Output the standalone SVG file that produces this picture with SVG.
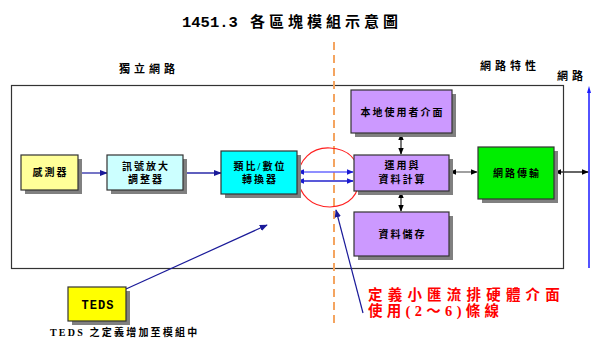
<svg xmlns="http://www.w3.org/2000/svg" width="591" height="338" viewBox="0 0 591 338">
<style>
  .t { font-family: "Liberation Serif", "Noto Sans CJK TC", serif; font-weight: bold; fill: #000; }
  .n { font-size: 10px; letter-spacing: 2px; text-anchor: middle; }
  .shadow { fill: #808080; }
  .box { stroke: #333; stroke-width: 1.2; }
  .blue { stroke: #2a2aa8; stroke-width: 1.3; fill: none; }
  .blk { stroke: #333; stroke-width: 1.3; fill: none; }
</style>
<defs>
  <marker id="ab" viewBox="0 0 10 10" refX="9" refY="5" markerWidth="7" markerHeight="7" orient="auto-start-reverse" markerUnits="userSpaceOnUse">
    <path d="M0,1 L10,5 L0,9 z" fill="#1a1ad0"/>
  </marker>
  <marker id="an" viewBox="0 0 10 10" refX="9" refY="5" markerWidth="8" markerHeight="8" orient="auto-start-reverse" markerUnits="userSpaceOnUse">
    <path d="M0,1 L10,5 L0,9 z" fill="#1a1a99"/>
  </marker>
  <marker id="ak" viewBox="0 0 10 10" refX="9" refY="5" markerWidth="7" markerHeight="7" orient="auto-start-reverse" markerUnits="userSpaceOnUse">
    <path d="M0,1 L10,5 L0,9 z" fill="#000"/>
  </marker>
</defs>
<rect width="591" height="338" fill="#fff"/>

<text class="t" x="182" y="27" style="font-family:'Liberation Mono','Noto Sans CJK TC',monospace;font-size:15.5px">1451.3</text>
<text class="t" x="250" y="27" style="font-size:15px;letter-spacing:4px">各區塊模組示意圖</text>

<text class="t" x="149" y="73" style="font-size:11px;letter-spacing:4px;text-anchor:middle">獨立網路</text>
<text class="t" x="510" y="70" style="font-size:11px;letter-spacing:4px;text-anchor:middle">網路特性</text>
<text class="t" x="557" y="80" style="font-size:11px;letter-spacing:4px">網路</text>

<rect x="11.5" y="85.5" width="552" height="183" fill="none" stroke="#333" stroke-width="1.2"/>

<g id="connectors">
  <line x1="334" y1="42" x2="334" y2="325" stroke="#f4a460" stroke-width="2" stroke-dasharray="8,5"/>
  <line x1="589" y1="90" x2="589" y2="268" stroke="#1a1aff" stroke-width="1.5"/>
  <path d="M589,86 L587,93 L591,93 z" fill="#1a1aff"/>
  <line class="blue" x1="78" y1="173" x2="107" y2="173" marker-end="url(#an)"/>
  <line class="blue" x1="183" y1="173" x2="221" y2="173" marker-end="url(#an)"/>
  <line x1="298" y1="172" x2="353" y2="172" stroke="#6a6aff" stroke-width="1.4" marker-start="url(#ab)" marker-end="url(#ab)"/>
  <line x1="298" y1="181" x2="353" y2="181" stroke="#2222cc" stroke-width="1.4" marker-start="url(#ab)" marker-end="url(#ab)"/>
  <line class="blk" x1="401" y1="134" x2="401" y2="154" marker-start="url(#ak)" marker-end="url(#ak)"/>
  <line class="blk" x1="401" y1="192" x2="401" y2="211" marker-start="url(#ak)" marker-end="url(#ak)"/>
  <line x1="450" y1="172" x2="477" y2="172" stroke="#777" stroke-width="1.4" marker-start="url(#ak)" marker-end="url(#ak)"/>
  <line class="blk" x1="555" y1="172" x2="588" y2="172" marker-start="url(#ak)" marker-end="url(#ak)"/>
  <path d="M330,148 C312,147 298,160 298,178 C299,195 312,207 330,207 C350,206 360,194 359,176 C358,160 349,149 330,148 Z" fill="none" stroke="#ff2020" stroke-width="1.2"/>
  <line x1="363" y1="313" x2="336" y2="210" stroke="#1a1a99" stroke-width="1.2" marker-end="url(#an)"/>
  <line x1="126" y1="289" x2="267" y2="225" stroke="#1a1a99" stroke-width="1.2" marker-end="url(#an)"/>
</g>

<g id="sensor">
  <rect class="shadow" x="25" y="159" width="57" height="35"/>
  <rect class="box" x="21" y="155" width="57" height="35" fill="#ffff99"/>
  <text class="t n" x="50.5" y="176">感測器</text>
</g>
<g id="amplifier">
  <rect class="shadow" x="111" y="159" width="76" height="35"/>
  <rect class="box" x="107" y="155" width="76" height="35" fill="#ccffff"/>
  <text class="t n" x="146" y="170">訊號放大</text>
  <text class="t n" x="146" y="183">調整器</text>
</g>
<g id="adc">
  <rect class="shadow" x="225" y="155" width="76" height="43"/>
  <rect class="box" x="221" y="151" width="76" height="43" fill="#00ffff"/>
  <text class="t n" x="260" y="170">類比/數位</text>
  <text class="t n" x="260" y="183">轉換器</text>
</g>
<g id="ui">
  <rect class="shadow" x="355" y="94" width="101" height="43"/>
  <rect class="box" x="351" y="90" width="101" height="43" fill="#cc99ff"/>
  <text class="t n" x="402.5" y="116">本地使用者介面</text>
</g>
<g id="compute">
  <rect class="shadow" x="358" y="159" width="95" height="36"/>
  <rect class="box" x="354" y="155" width="95" height="36" fill="#cc99ff"/>
  <text class="t n" x="402.5" y="169">運用與</text>
  <text class="t n" x="402.5" y="183">資料計算</text>
</g>
<g id="storage">
  <rect class="shadow" x="358" y="216" width="95" height="44"/>
  <rect class="box" x="354" y="212" width="95" height="44" fill="#cc99ff"/>
  <text class="t n" x="402.5" y="238">資料儲存</text>
</g>
<g id="network">
  <rect class="shadow" x="482" y="151" width="76" height="52"/>
  <rect class="box" x="478" y="147" width="76" height="52" fill="#00ee00"/>
  <text class="t n" x="517" y="177">網路傳輸</text>
</g>
<g id="teds">
  <rect class="shadow" x="72" y="291" width="58" height="34"/>
  <rect class="box" x="68" y="287" width="58" height="34" fill="#ffff00"/>
  <text class="t" x="98" y="309" style="font-family:'Liberation Mono',monospace;font-size:12px;text-anchor:middle;letter-spacing:1px">TEDS</text>
</g>

<text class="t" x="50" y="336" style="font-size:10px;letter-spacing:2.2px">TEDS 之定義增加至模組中</text>
<text class="t" x="368" y="300" style="font-size:14.5px;letter-spacing:5.2px;fill:#ff0000">定義小匯流排硬體介面</text>
<text class="t" x="368" y="316" style="font-size:14.5px;letter-spacing:4.3px;fill:#ff0000">使用(2～6)條線</text>
</svg>
